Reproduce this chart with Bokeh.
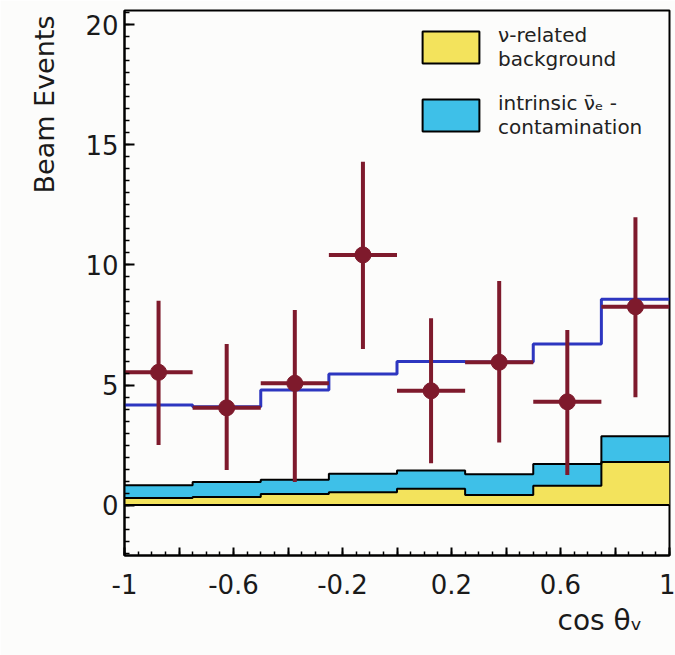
import numpy as np
from bokeh.plotting import figure
from bokeh.models import (Range1d, FixedTicker, Legend, LegendItem, Span, Title,
                          ColumnDataSource)
from bokeh.embed import file_html
from bokeh.resources import INLINE

# ---------------- data ----------------
bin_edges = [-1.0, -0.75, -0.5, -0.25, 0.0, 0.25, 0.5, 0.75, 1.0]
bin_centers = [-0.875, -0.625, -0.375, -0.125, 0.125, 0.375, 0.625, 0.875]

data_counts = [5.53, 4.05, 5.07, 10.42, 4.76, 5.95, 4.30, 8.26]
data_upper = [8.51, 6.71, 8.13, 14.30, 7.78, 9.33, 7.29, 11.99]
data_lower = [2.50, 1.46, 0.96, 6.50, 1.74, 2.61, 1.25, 4.49]

expected_total = [4.17, 4.10, 4.79, 5.46, 5.98, 5.96, 6.71, 8.57]
nu_related_bg = [0.30, 0.34, 0.46, 0.53, 0.68, 0.42, 0.80, 1.79]
intrinsic_contam = [0.53, 0.62, 0.59, 0.77, 0.76, 0.86, 0.91, 1.08]

x_tick_values = [-1, -0.8, -0.6, -0.4, -0.2, 0, 0.2, 0.4, 0.6, 0.8, 1]
x_tick_labels = ["-1", "", "-0.6", "", "-0.2", "", "0.2", "", "0.6", "", "1"]
y_tick_values = [0, 5, 10, 15, 20]
y_tick_labels = ["0", "5", "10", "15", "20"]

legend_labels = ["\u03bd-related\nbackground", "intrinsic \u03bd\u0304\u2091 -\ncontamination"]
y_title = "Beam Events"
x_title = "cos \u03b8\u1d65"

# ---------------- styling ----------------
YELLOW = "#f3e35c"
CYAN = "#3ec0e8"
BLUE = "#2d36c0"
RED = "#7e1a2c"
BG = "#fcfcfb"
FONT = "DejaVu Sans"

p = figure(width=675, height=655, x_range=Range1d(-1, 1), y_range=Range1d(-2.1, 20.6),
           output_backend="svg", toolbar_location=None,
           min_border_left=124, min_border_right=6, min_border_top=10, min_border_bottom=100)
p.background_fill_color = BG
p.border_fill_color = BG
p.xgrid.visible = False
p.ygrid.visible = False
p.outline_line_color = "black"
p.outline_line_width = 2

# stacked histogram fills
yel_top = list(nu_related_bg)
cyan_top = [a + b for a, b in zip(nu_related_bg, intrinsic_contam)]
zeros = [0.0] * len(bin_edges)
yel_top_s = yel_top + [yel_top[-1]]
cyan_top_s = cyan_top + [cyan_top[-1]]

p.varea_step(x=bin_edges, y1=zeros, y2=yel_top_s, step_mode="after", fill_color=YELLOW)
p.varea_step(x=bin_edges, y1=yel_top_s, y2=cyan_top_s, step_mode="after", fill_color=CYAN)
p.step(x=bin_edges, y=yel_top_s, mode="after", line_color="black", line_width=2)
p.step(x=bin_edges, y=cyan_top_s, mode="after", line_color="black", line_width=2)
p.add_layout(Span(location=0, dimension="width", line_color="black", line_width=2))

# expectation
tot_s = list(expected_total) + [expected_total[-1]]
p.step(x=bin_edges, y=tot_s, mode="after", line_color=BLUE, line_width=3)

# data points
src = ColumnDataSource(dict(x=bin_centers, y=data_counts, lo=data_lower, hi=data_upper,
                            x0=bin_edges[:-1], x1=bin_edges[1:]))
p.segment(x0="x0", x1="x1", y0="y", y1="y", source=src, line_color=RED, line_width=4)
p.segment(x0="x", x1="x", y0="lo", y1="hi", source=src, line_color=RED, line_width=4)
p.scatter(x="x", y="y", source=src, size=16, fill_color=RED, line_color=RED)

# legend swatch renderers (one undrawable NaN entry each, used only for the legend)
nan = float("nan")
sw = dict(left=[nan], right=[nan], top=[nan], bottom=[nan])
leg_y = p.quad(source=ColumnDataSource(sw), left="left", right="right", top="top", bottom="bottom",
               fill_color=YELLOW, line_color="black", line_width=2)
leg_c = p.quad(source=ColumnDataSource(dict(sw)), left="left", right="right", top="top", bottom="bottom",
               fill_color=CYAN, line_color="black", line_width=2)
legend = Legend(items=[LegendItem(label=legend_labels[0], renderers=[leg_y]),
                       LegendItem(label=legend_labels[1], renderers=[leg_c])],
                location=(291, 416), padding=0, margin=0, spacing=20,
                glyph_width=71, glyph_height=40, label_standoff=12,
                label_text_font=FONT, label_text_font_size="20px",
                label_text_line_height=1.35, label_text_color="#222222",
                border_line_color=None, background_fill_alpha=0)
p.add_layout(legend)

# axes
p.xaxis.ticker = FixedTicker(ticks=x_tick_values,
                             minor_ticks=[round(v, 2) for v in np.arange(-1, 1.0001, 0.05)])
p.xaxis.major_label_overrides = {v: l for v, l in zip(x_tick_values, x_tick_labels)}
p.yaxis.ticker = FixedTicker(ticks=y_tick_values,
                             minor_ticks=[round(v, 2) for v in np.arange(-2, 20.6, 0.5)])
p.yaxis.major_label_overrides = {v: l for v, l in zip(y_tick_values, y_tick_labels)}

for ax in (p.xaxis[0], p.yaxis[0]):
    ax.axis_line_color = "black"
    ax.axis_line_width = 2
    ax.major_tick_out = 0
    ax.minor_tick_out = 0
    ax.major_tick_line_width = 2
    ax.minor_tick_line_width = 1.5
    ax.major_label_text_font = FONT
    ax.major_label_text_font_size = "26px"
    ax.major_label_text_color = "#1a1a1a"
p.xaxis.major_tick_in = 8
p.xaxis.minor_tick_in = 4
p.xaxis.major_label_standoff = 18
p.yaxis.major_tick_in = 10
p.yaxis.minor_tick_in = 5
p.yaxis.major_label_standoff = 6

# axis titles as plot titles placed beside the axes
p.add_layout(Title(text=x_title, align="left", offset=433, standoff=11,
                   text_font=FONT, text_font_size="28px", text_font_style="normal",
                   text_color="#1a1a1a"), "below")
p.add_layout(Title(text=y_title, align="right", offset=5, standoff=46,
                   text_font=FONT, text_font_size="27px", text_font_style="normal",
                   text_color="#1a1a1a"), "left")

open("out.html", "w").write(file_html(p, INLINE))
